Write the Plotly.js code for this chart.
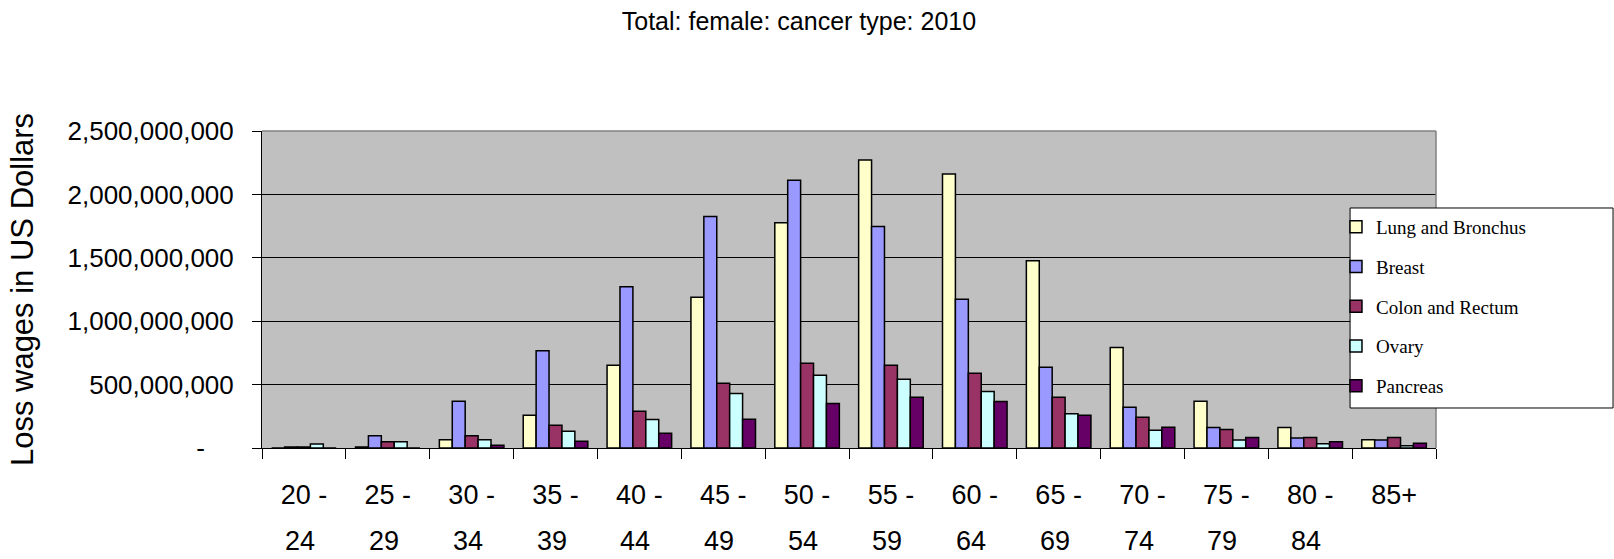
<!DOCTYPE html>
<html>
<head>
<meta charset="utf-8">
<script src="https://cdn.plot.ly/plotly-3.0.1.min.js"></script>
<style>
  html, body { margin: 0; padding: 0; background: #ffffff; }
  #chart { width: 1614px; height: 559px; }
</style>
</head>
<body>
<div id="chart"></div>
<script>
// Age groups: first line of each label is the category, second line sits underneath
const ageGroups   = ["20 -", "25 -", "30 -", "35 -", "40 -", "45 -", "50 -",
                     "55 -", "60 -", "65 -", "70 -", "75 -", "80 -", "85+"];
const ageGroupEnd = ["24", "29", "34", "39", "44", "49", "54",
                     "59", "64", "69", "74", "79", "84", ""];

// Lost wages per cancer type, US dollars
const lungBronchus = [0, 8e6, 66e6, 258e6, 653e6, 1189e6, 1776e6, 2271e6, 2161e6, 1476e6, 792e6, 368e6, 161e6, 66e6];
const breast       = [8e6, 97e6, 368e6, 766e6, 1271e6, 1826e6, 2111e6, 1747e6, 1174e6, 637e6, 321e6, 161e6, 79e6, 63e6];
const colonRectum  = [8e6, 50e6, 97e6, 179e6, 289e6, 511e6, 668e6, 653e6, 589e6, 400e6, 242e6, 145e6, 82e6, 82e6];
const ovary        = [32e6, 50e6, 66e6, 132e6, 224e6, 429e6, 574e6, 542e6, 445e6, 271e6, 139e6, 63e6, 34e6, 18e6];
const pancreas     = [0, 0, 21e6, 53e6, 116e6, 226e6, 350e6, 400e6, 366e6, 258e6, 163e6, 82e6, 50e6, 37e6];

// Y axis ticks
const yTickVals = [0, 5e8, 1e9, 1.5e9, 2e9, 2.5e9];
const yTickText = ["-\u00A0\u00A0\u00A0\u00A0", "500,000,000", "1,000,000,000", "1,500,000,000", "2,000,000,000", "2,500,000,000"];

const seriesNames  = ["Lung and Bronchus", "Breast", "Colon and Rectum", "Ovary", "Pancreas"];
const seriesValues = [lungBronchus, breast, colonRectum, ovary, pancreas];
const seriesColors = ["#FFFFCC", "#9999FF", "#993366", "#CCFFFF", "#660066"];

const sansFont  = "'Liberation Sans', Arial, sans-serif";
const serifFont = "'Liberation Serif', 'Times New Roman', serif";

const traces = seriesNames.map((name, i) => ({
  type: "bar",
  name: name,
  legendgroup: "g" + i,
  x: ageGroups,
  y: seriesValues[i],
  marker: { color: seriesColors[i], line: { color: "#000000", width: 1.5 } },
  hoverinfo: "x+y+name"
}));

// Second row of the age labels, placed under each category
const ageEndLabels = ageGroups.map((g, i) => ({
  xref: "x", x: g,
  yref: "paper", y: -0.293, yanchor: "middle",
  xshift: -4,
  text: ageGroupEnd[i],
  showarrow: false,
  font: { family: sansFont, size: 27, color: "#000000" }
}));

// Legend frame (paper coordinates of the plot area)
const legendBox = { x0: 0.9268, x1: 1.1508, y0: 0.1262, y1: 0.7571 };

const layout = {
  width: 1614,
  height: 559,
  paper_bgcolor: "#ffffff",
  plot_bgcolor: "#C0C0C0",
  margin: { l: 262, r: 178, t: 131, b: 111, pad: 0 },
  barmode: "group",
  bargap: 0.23,
  bargroupgap: 0,
  title: {
    text: "Total: female: cancer type: 2010",
    font: { family: sansFont, size: 25, color: "#000000" },
    xref: "container", x: 0.495, xanchor: "center",
    yref: "container", y: 0.962, yanchor: "middle"
  },
  xaxis: {
    type: "category",
    tickson: "boundaries",
    ticks: "outside",
    ticklen: 10,
    tickcolor: "#000000",
    tickwidth: 1,
    showline: true,
    linecolor: "#000000",
    linewidth: 1,
    showgrid: false,
    tickfont: { family: sansFont, size: 27, color: "#000000" },
    ticklabelstandoff: 23,
    automargin: false,
    fixedrange: true
  },
  yaxis: {
    range: [0, 2.5e9],
    tickvals: yTickVals,
    ticktext: yTickText,
    ticks: "outside",
    ticklen: 9,
    tickcolor: "#000000",
    showline: true,
    linecolor: "#000000",
    linewidth: 1,
    showgrid: true,
    gridcolor: "#000000",
    gridwidth: 1,
    zeroline: false,
    tickfont: { family: sansFont, size: 26, color: "#000000" },
    ticklabelstandoff: 13,
    title: {
      text: "Loss wages in US Dollars",
      font: { family: sansFont, size: 31, color: "#000000" },
      standoff: 24
    },
    automargin: false,
    fixedrange: true
  },
  showlegend: true,
  legend: {
    x: 0.9148, xanchor: "left",
    y: legendBox.y1, yanchor: "top",
    bgcolor: "rgba(0,0,0,0)",
    borderwidth: 0,
    traceorder: "grouped",
    tracegroupgap: 12,
    font: { family: serifFont, size: 19, color: "#000000" }
  },
  annotations: ageEndLabels,
  shapes: [
    // top and right frame of the plot area
    { type: "line", xref: "paper", yref: "paper", x0: 0, x1: 1, y0: 1, y1: 1,
      line: { color: "#808080", width: 1.5 }, layer: "above" },
    { type: "line", xref: "paper", yref: "paper", x0: 1, x1: 1, y0: 0, y1: 1,
      line: { color: "#808080", width: 1.5 }, layer: "above" },
    // legend frame
    { type: "rect", xref: "paper", yref: "paper",
      x0: legendBox.x0, x1: legendBox.x1, y0: legendBox.y0, y1: legendBox.y1,
      fillcolor: "#ffffff", line: { color: "#000000", width: 1 }, layer: "above" }
  ]
};

Plotly.newPlot("chart", traces, layout, { displayModeBar: false, staticPlot: true });
</script>
</body>
</html>
